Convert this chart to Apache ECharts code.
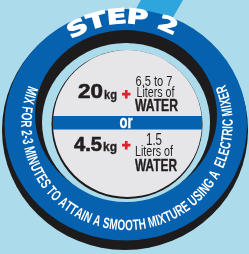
<!DOCTYPE html>
<html><head><meta charset="utf-8">
<script src="https://cdn.jsdelivr.net/npm/echarts@6/dist/echarts.min.js"></script>
<style>html,body{margin:0;padding:0;background:#acdcec;overflow:hidden}#c{width:249px;height:254px}</style>
</head><body><div id="c"></div>
<script>
// ---- content ----
const stepTitle = 'STEP 2';
const ringMessage = 'MIX FOR 2-3 MINUTES TO ATTAIN A SMOOTH MIXTURE USING A  ELECTRIC MIXER';
const mixAmounts = ['20', '4.5'];
const mixUnits = ['kg', 'kg'];
const waterAmounts = ['6,5 to 7', '1.5'];
const waterUnits = ['Liters of', 'Liters of'];
const waterWord = ['WATER', 'WATER'];
const separatorWord = 'or';

// ---- helpers ----
const cv = document.createElement('canvas').getContext('2d');
function mw(t, font) { cv.font = font; return cv.measureText(t).width; }
const SANS = '"Liberation Sans", Arial, sans-serif';
const DJ = '"DejaVu Sans", sans-serif';

function ell(cx, cy, rx, ry, fill, z) {
  return { type: 'circle', x: cx, y: cy, scaleY: ry / rx, z: z, silent: true,
    shape: { cx: 0, cy: 0, r: rx }, style: { fill: fill } };
}
function txt(text, o) {
  const font = (o.weight || 'normal') + ' ' + o.size + 'px ' + (o.family || SANS);
  const w = mw(text, font);
  const fill = o.fill || '#231f20';
  return { type: 'text', x: o.left, y: o.cy, scaleX: o.width / w, z: 30, silent: true,
    style: { text: text, font: font, fill: fill, align: 'left', verticalAlign: 'middle',
      stroke: o.lw ? fill : null, lineWidth: o.lw || 0 } };
}
function arcText(str, o) {
  const font = o.weight + ' ' + o.size + 'px ' + o.family;
  const chars = Array.from(str);
  const ws = chars.map(ch => mw(ch, font));
  const centers = []; let acc = 0;
  ws.forEach(w => { centers.push(acc + w / 2); acc += w; });
  const c0 = centers[0], c1 = centers[centers.length - 1];
  const dT = o.end - o.start;
  const arcLen = Math.abs(dT) * Math.PI / 180 * (o.rx + o.ry) / 2;
  const s = arcLen / (c1 - c0);
  const out = [];
  chars.forEach((ch, i) => {
    if (ch === ' ') return;
    const th = o.start + dT * (centers[i] - c0) / (c1 - c0);
    const rad = th * Math.PI / 180;
    const x = o.cx + o.rx * Math.cos(rad), y = o.cy + o.ry * Math.sin(rad);
    const delta = o.outward ? th + 90 : th - 90;
    out.push({ type: 'text', x: x, y: y, rotation: -delta * Math.PI / 180,
      scaleX: s * (o.stretch || 1), z: 25, silent: true,
      style: { text: ch, font: font, fill: o.fill, align: 'center', verticalAlign: 'middle',
        stroke: o.stroke || null, lineWidth: o.lineWidth || 0 } });
  });
  return out;
}

// ---- build ----
const els = [];
els.push({ type: 'polygon', z: 1, silent: true, shape: { points: [[141, 0], [183, 0], [160, 40], [118, 40]] }, style: { fill: '#2ea6dd' } });
els.push(ell(125, 130, 123, 120, '#1d1b1c', 2));
els.push(ell(125.75, 124.75, 121.25, 115.75, '#0661ae', 3));
els.push(ell(126, 115, 91, 85, '#1d1b1c', 4));
els.push(ell(126, 122.5, 84, 79.5, '#acdcec', 5));
els.push(ell(127, 124.5, 75.5, 74.5, '#1d1b1c', 6));
els.push(ell(127.5, 123.5, 74.5, 73.5, '#e6e6e8', 7));
els.push({ type: 'rect', z: 8, silent: true, shape: { x: 53, y: 116, width: 149, height: 13.5 }, style: { fill: '#0661ae' } });

// separator
els.push(txt(separatorWord, { left: 119.5, width: 13, cy: 123.5, size: 18, weight: 'bold', fill: '#ffffff', lw: 0.4 }));

// rows
const rows = [
  { amt: [78, 25, 92.5], unit: [104, 13, 95.5], plus: [122, 8.5, 94.5], wa: [135.5, 37, 82, 14], wu: [136.5, 38, 93.5], ww: [135, 43, 106] },
  { amt: [74, 28, 145], unit: [103, 14, 148], plus: [122, 8.5, 146], wa: [146, 16, 141, 16], wu: [135, 38, 152], ww: [135, 42, 166] }
];
rows.forEach((r, i) => {
  els.push(txt(mixAmounts[i], { left: r.amt[0], width: r.amt[1], cy: r.amt[2], size: 20, weight: 'bold', lw: 0.6 }));
  els.push(txt(mixUnits[i], { left: r.unit[0], width: r.unit[1], cy: r.unit[2], size: 12.5, weight: 'bold', lw: 0.3 }));
  els.push(txt('+', { left: r.plus[0], width: r.plus[1], cy: r.plus[2], size: 15, weight: 'bold', fill: '#e3202a', lw: 1.1 }));
  els.push(txt(waterAmounts[i], { left: r.wa[0], width: r.wa[1], cy: r.wa[2], size: r.wa[3], weight: 'normal' }));
  els.push(txt(waterUnits[i], { left: r.wu[0], width: r.wu[1], cy: r.wu[2], size: 14, weight: 'normal' }));
  els.push(txt(waterWord[i], { left: r.ww[0], width: r.ww[1], cy: r.ww[2], size: 16.5, weight: 'bold', lw: 0.4 }));
});

// curved texts
arcText(stepTitle, { cx: 126, cy: 124, rx: 106, ry: 106, start: -117, end: -67, outward: true,
  size: 20.5, weight: 'bold', family: DJ, fill: '#ffffff', stroke: '#ffffff', lineWidth: 1 }).forEach(e => els.push(e));
arcText(ringMessage, { cx: 127, cy: 124, rx: 101.5, ry: 102, start: 199, end: -20, outward: false,
  size: 15, weight: 'bold', family: SANS, fill: '#ffffff' }).forEach(e => els.push(e));

const chart = echarts.init(document.getElementById('c'), null, { renderer: 'canvas' });
chart.setOption({ backgroundColor: '#acdcec', animation: false, graphic: { elements: els } });
</script>
</body></html>
